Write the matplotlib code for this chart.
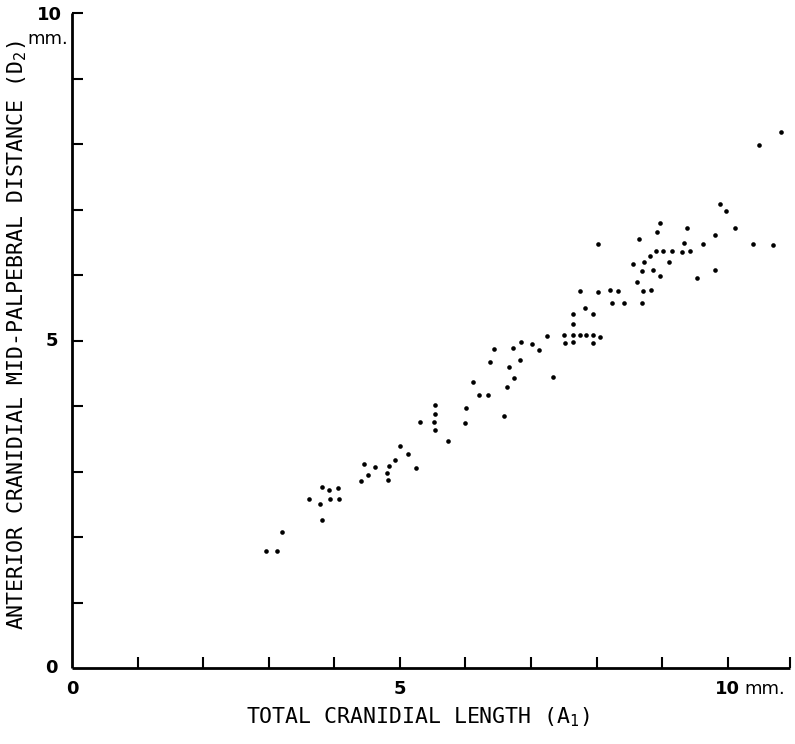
import matplotlib
matplotlib.use("Agg")
import matplotlib.pyplot as plt

total_length = [
    2.96, 3.12, 3.20, 3.61, 3.81, 3.78, 3.82, 3.92, 3.94, 4.05,
    4.07, 4.40, 4.46, 4.51, 4.62, 4.83, 4.81, 4.82, 4.92, 5.00,
    5.13, 5.24, 5.31, 5.53, 5.53, 5.52, 5.53, 5.73, 6.01, 6.00,
    6.11, 6.20, 6.35, 6.59, 6.38, 6.43, 6.63, 6.67, 6.74, 6.72,
    6.83, 6.84, 7.01, 7.12, 7.25, 7.34, 7.51, 7.52, 7.64, 7.64,
    7.64, 7.64, 7.75, 7.84, 7.82, 7.94, 7.94, 7.95, 8.05, 8.23,
    8.42, 7.74, 8.02, 8.02, 8.21, 8.33, 8.70, 8.62, 8.71, 8.83,
    8.96, 8.56, 8.70, 8.86, 8.73, 8.82, 8.91, 9.01, 9.15, 9.10,
    8.64, 8.92, 8.96, 9.38, 9.33, 9.31, 9.42, 9.62, 9.53, 9.80,
    9.80, 9.89, 9.98, 10.11, 10.38, 10.69, 10.48, 10.82,
]
mid_palpebral = [
    1.79, 1.78, 2.07, 2.58, 2.26, 2.50, 2.77, 2.71, 2.58, 2.75,
    2.58, 2.85, 3.12, 2.94, 3.07, 3.09, 2.98, 2.87, 3.17, 3.39,
    3.27, 3.06, 3.76, 4.01, 3.88, 3.75, 3.63, 3.47, 3.97, 3.74,
    4.36, 4.17, 4.17, 3.85, 4.67, 4.87, 4.29, 4.60, 4.43, 4.88,
    4.70, 4.97, 4.95, 4.85, 5.07, 4.45, 5.09, 4.96, 4.98, 5.09,
    5.25, 5.40, 5.09, 5.08, 5.49, 5.09, 5.40, 4.96, 5.06, 5.57,
    5.58, 5.76, 6.47, 5.74, 5.77, 5.75, 5.58, 5.89, 5.76, 5.77,
    5.98, 6.17, 6.06, 6.08, 6.20, 6.29, 6.37, 6.36, 6.37, 6.20,
    6.55, 6.65, 6.79, 6.72, 6.49, 6.35, 6.37, 6.47, 5.96, 6.61,
    6.08, 7.08, 6.98, 6.71, 6.48, 6.46, 7.98, 8.18,
]

x_ticks = list(range(1, 11))
y_ticks = list(range(1, 11))
x_max = 10.95
y_max = 10

plt.rcParams["mathtext.fontset"] = "custom"
plt.rcParams["mathtext.rm"] = "DejaVu Sans Mono"
plt.rcParams["mathtext.it"] = "DejaVu Sans Mono"

fig = plt.figure(figsize=(7.95, 7.44), dpi=100)
ax = fig.add_axes([72 / 795, 76 / 744, (790 - 72) / 795, (668 - 13) / 744])

ax.scatter(total_length, mid_palpebral, s=11, color="black", linewidths=0, zorder=3)

ax.set_xlim(0, x_max)
ax.set_ylim(0, y_max)
for side in ("top", "right"):
    ax.spines[side].set_visible(False)
for side in ("left", "bottom"):
    ax.spines[side].set_linewidth(2.0)
    ax.spines[side].set_capstyle("butt")

ax.set_xticks(x_ticks + [x_max])
ax.set_yticks(y_ticks)
ax.tick_params(direction="in", length=8, width=1.5, labelbottom=False, labelleft=False)

num = dict(fontsize=13, fontweight="bold", family="DejaVu Sans", color="black")
ax.text(0, -0.32, "0", ha="center", va="center", clip_on=False, **num)
ax.text(5, -0.32, "5", ha="center", va="center", clip_on=False, **num)
ax.text(10, -0.32, "10", ha="center", va="center", clip_on=False, **num)
ax.text(10.26, -0.32, "mm.", ha="left", va="center", clip_on=False,
        fontsize=13, family="DejaVu Sans", color="black")
ax.text(-0.32, 0, "0", ha="center", va="center", clip_on=False, **num)
ax.text(-0.30, 5, "5", ha="center", va="center", clip_on=False, **num)
ax.text(-0.34, 9.97, "10", ha="center", va="center", clip_on=False, **num)
ax.text(-0.06, 9.6, "mm.", ha="right", va="center", clip_on=False,
        fontsize=13, family="DejaVu Sans", color="black")

lab = dict(fontsize=15.5, family="DejaVu Sans Mono", color="black")
fig.text(418 / 795, 1 - 717 / 744, r"TOTAL CRANIDIAL LENGTH (A$_1$)",
         ha="center", va="center", **lab)
fig.text(17 / 795, 1 - 335 / 744,
         r"ANTERIOR CRANIDIAL MID-PALPEBRAL DISTANCE (D$_2$)",
         ha="center", va="center", rotation=90, **lab)

fig.savefig("out.png", dpi=100)
